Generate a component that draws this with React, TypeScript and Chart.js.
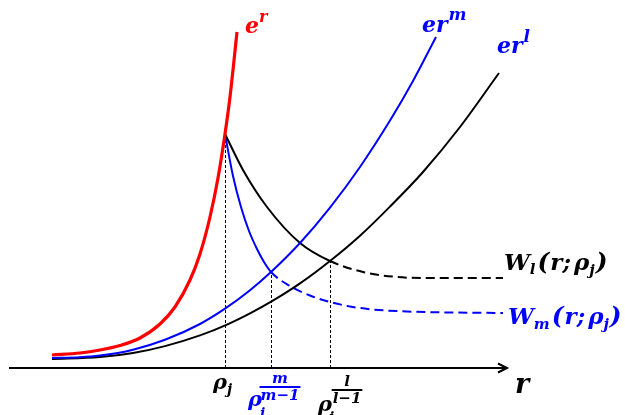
import React, { useEffect, useRef } from "react";
import { Chart, registerables } from "chart.js";

Chart.register(...registerables);

// Growth curves e^r, e r^m, e r^l (r along x, height above the axis on y)
const expX = [52, 80, 100, 120, 140, 160, 175, 190, 200, 210, 218, 225, 230, 237];
const expY = [13, 15, 18, 22.5, 30, 44, 61, 88, 114, 151, 190, 234, 271, 336];

const powMX = [52, 80, 100, 133, 165, 200, 225, 250, 271, 300, 330, 360, 390, 413, 436];
const powMY = [10, 10.7, 12.4, 18.3, 28.2, 44, 59.3, 77.8, 96, 125, 160.4, 201, 247.4, 287, 331];

const powLX = [52, 100, 133, 165, 200, 227, 250, 272, 300, 330, 360, 390, 423, 460, 499];
const powLY = [9, 10.9, 15, 21.9, 32.6, 43.4, 54.6, 66.8, 84.6, 107, 132.3, 161.4, 196, 241, 295];

// W_l(r; rho_j) and W_m(r; rho_j), starting at rho_j on e^r
const wLX = [225, 243, 267, 300, 330, 363, 397, 430, 503];
const wLY = [234, 198, 161, 125, 107, 96, 91, 90, 90];

const wMX = [225, 233, 241, 249, 257, 264, 271, 290, 310, 330, 350, 373, 407, 450, 503];
const wMY = [234, 192, 161, 137, 119, 106, 96, 82, 72.5, 66, 61.5, 58.5, 56.5, 55.5, 55];

// Marked points on the r axis
const rhoJ = 225;
const rhoM = 271;
const rhoL = 330;

const axisStart = 9;
const axisEnd = 507;

const RED = "#ff0000";
const BLUE = "#0000ff";
const BLACK = "#000000";
const FACE = '"DejaVu Serif", serif';

const pts = (xs: number[], ys: number[]) => xs.map((x, i) => ({ x, y: ys[i] }));
const valueAt = (xs: number[], ys: number[], x: number) => ys[xs.indexOf(x)];

type Run = { t: string; size: number; rise?: number; gap?: number };

function font(size: number) {
  return `italic bold ${size}px ${FACE}`;
}

function drawRuns(ctx: CanvasRenderingContext2D, x: number, y: number, runs: Run[], color: string) {
  ctx.fillStyle = color;
  ctx.textAlign = "left";
  ctx.textBaseline = "alphabetic";
  let cx = x;
  for (const r of runs) {
    ctx.font = font(r.size);
    ctx.fillText(r.t, cx, y - (r.rise || 0));
    cx += ctx.measureText(r.t).width + (r.gap || 0);
  }
}

function drawFrac(
  ctx: CanvasRenderingContext2D,
  cx: number,
  barY: number,
  num: string,
  den: string,
  size: number,
  color: string
) {
  ctx.fillStyle = color;
  ctx.strokeStyle = color;
  ctx.font = font(size);
  ctx.textAlign = "center";
  ctx.textBaseline = "alphabetic";
  ctx.fillText(num, cx, barY - 4);
  ctx.fillText(den, cx, barY + size * 0.85);
  const w = ctx.measureText(den).width + 2;
  ctx.lineWidth = 2;
  ctx.beginPath();
  ctx.moveTo(cx - w / 2, barY);
  ctx.lineTo(cx + w / 2, barY);
  ctx.stroke();
}

const decorations = {
  id: "decorations",
  beforeDatasetsDraw(chart: any) {
    const { ctx, scales } = chart;
    const X = (v: number) => scales.x.getPixelForValue(v);
    const Y = (v: number) => scales.y.getPixelForValue(v);
    const y0 = Y(0);
    ctx.save();

    // r axis with open arrow head
    ctx.strokeStyle = BLACK;
    ctx.lineWidth = 2;
    ctx.beginPath();
    ctx.moveTo(X(axisStart), y0);
    ctx.lineTo(X(axisEnd), y0);
    ctx.moveTo(X(axisEnd) - 9, y0 - 4.5);
    ctx.lineTo(X(axisEnd), y0);
    ctx.lineTo(X(axisEnd) - 9, y0 + 4.5);
    ctx.stroke();

    // dotted drop lines from the marked points
    const drops: [number, number][] = [
      [rhoJ, valueAt(expX, expY, rhoJ)],
      [rhoM, valueAt(wMX, wMY, rhoM)],
      [rhoL, valueAt(wLX, wLY, rhoL)],
    ];
    ctx.lineWidth = 1;
    ctx.setLineDash([3, 2]);
    for (const [x, v] of drops) {
      ctx.beginPath();
      ctx.moveTo(Math.round(X(x)) + 0.5, y0);
      ctx.lineTo(Math.round(X(x)) + 0.5, Y(v));
      ctx.stroke();
    }
    ctx.restore();
  },
  afterDatasetsDraw(chart: any) {
    const { ctx, scales } = chart;
    const X = (v: number) => scales.x.getPixelForValue(v);
    const Y = (v: number) => scales.y.getPixelForValue(v);
    const y0 = Y(0);
    const last = (a: number[]) => a[a.length - 1];
    ctx.save();

    // curve names at the curve ends
    drawRuns(ctx, X(last(expX)) + 8, Y(last(expY)) + 1, [
      { t: "e", size: 22 },
      { t: "r", size: 16, rise: 11 },
    ], RED);
    drawRuns(ctx, X(last(powMX)) - 14, Y(last(powMY)) - 5, [
      { t: "er", size: 22, gap: 1 },
      { t: "m", size: 17, rise: 12 },
    ], BLUE);
    drawRuns(ctx, X(last(powLX)) - 2, Y(last(powLY)) - 20, [
      { t: "er", size: 22, gap: 1 },
      { t: "l", size: 17, rise: 11 },
    ], BLUE);
    drawRuns(ctx, X(last(wLX)) + 1, Y(last(wLY)) - 8, [
      { t: "W", size: 23 },
      { t: "l", size: 15, rise: -4, gap: 2 },
      { t: "(", size: 25, gap: 1 },
      { t: "r;", size: 23, gap: 3 },
      { t: "ρ", size: 23 },
      { t: "j", size: 15, rise: -5, gap: 1 },
      { t: ")", size: 25 },
    ], BLACK);
    drawRuns(ctx, X(last(wMX)) + 5, Y(last(wMY)) + 11, [
      { t: "W", size: 23 },
      { t: "m", size: 15, rise: -5, gap: 2 },
      { t: "(", size: 25, gap: 1 },
      { t: "r;", size: 23, gap: 3 },
      { t: "ρ", size: 23 },
      { t: "j", size: 15, rise: -5, gap: 1 },
      { t: ")", size: 25 },
    ], BLUE);

    // axis name
    drawRuns(ctx, X(axisEnd) + 8, y0 + 25, [{ t: "r", size: 27 }], BLACK);

    // marked points on the axis
    drawRuns(ctx, X(rhoJ) - 12, y0 + 21, [
      { t: "ρ", size: 21 },
      { t: "j", size: 14, rise: -5 },
    ], BLACK);

    drawRuns(ctx, X(rhoM) - 23, y0 + 38, [{ t: "ρ", size: 21 }], BLUE);
    drawRuns(ctx, X(rhoM) - 11, y0 + 50, [{ t: "i", size: 14 }], BLUE);
    drawFrac(ctx, X(rhoM) + 9, y0 + 19, "m", "m−1", 15, BLUE);

    drawRuns(ctx, X(rhoL) - 12, y0 + 43, [{ t: "ρ", size: 21 }], BLACK);
    drawRuns(ctx, X(rhoL) - 1, y0 + 54, [{ t: "i", size: 14 }], BLACK);
    drawFrac(ctx, X(rhoL) + 17, y0 + 22, "l", "l−1", 15, BLACK);

    ctx.restore();
  },
};

export default function App() {
  const ref = useRef<HTMLCanvasElement | null>(null);

  useEffect(() => {
    document.body.style.margin = "0";
    const canvas = ref.current;
    if (!canvas) return;
    const dash = [9, 5];
    const chart = new Chart(canvas, {
      type: "line",
      data: {
        datasets: [
          {
            label: "e^r",
            data: pts(expX, expY),
            borderColor: RED,
            borderWidth: 3.2,
          },
          {
            label: "er^m",
            data: pts(powMX, powMY),
            borderColor: BLUE,
            borderWidth: 2,
          },
          {
            label: "er^l",
            data: pts(powLX, powLY),
            borderColor: BLACK,
            borderWidth: 2,
          },
          {
            label: "W_l",
            data: pts(wLX, wLY),
            borderColor: BLACK,
            borderWidth: 2,
            segment: {
              borderDash: (c: any) => (c.p0.parsed.x >= rhoL ? dash : undefined),
            },
          },
          {
            label: "W_m",
            data: pts(wMX, wMY),
            borderColor: BLUE,
            borderWidth: 2,
            segment: {
              borderDash: (c: any) => (c.p0.parsed.x >= rhoM ? dash : undefined),
            },
          },
        ] as any,
      },
      options: {
        animation: false,
        responsive: true,
        maintainAspectRatio: false,
        parsing: false as any,
        layout: { padding: 0 },
        elements: {
          point: { radius: 0, hoverRadius: 0 },
          line: { cubicInterpolationMode: "monotone", fill: false, borderCapStyle: "butt" },
        },
        plugins: {
          legend: { display: false },
          tooltip: { enabled: false },
          title: { display: false },
        },
        events: [],
        scales: {
          x: { type: "linear", min: 0, max: 625, display: false },
          y: { type: "linear", min: -47, max: 368, display: false },
        },
      },
      plugins: [decorations],
    });
    return () => chart.destroy();
  }, []);

  return (
    <div style={{ position: "absolute", left: 0, top: 0, width: 625, height: 415, background: "#fff" }}>
      <canvas ref={ref} />
    </div>
  );
}
